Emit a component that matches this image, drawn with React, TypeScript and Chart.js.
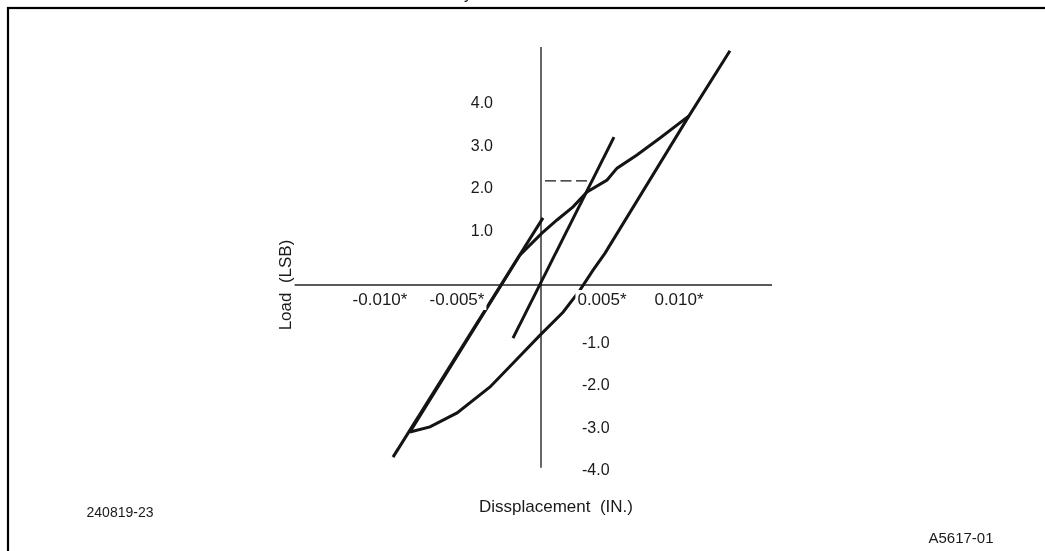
import React, { useEffect, useRef } from "react";
import { Chart, registerables } from "chart.js";

Chart.register(...registerables);

// Axis tick values (inches / LSB) and their printed labels
const xTickValues = [-0.01, -0.005, 0.005, 0.01];
const xTickLabels = ["-0.010*", "-0.005*", "0.005*", "0.010*"];
const yTickValues = [4, 3, 2, 1, -1, -2, -3, -4];
const yTickLabels = ["4.0", "3.0", "2.0", "1.0", "-1.0", "-2.0", "-3.0", "-4.0"];

// Straight line on the left side of the loop
const leftLineX = [-0.00961, 0.00013];
const leftLineY = [-4.05, 1.58];

// Loading branch of the hysteresis loop (lower-left corner to upper-right corner)
const loadingX = [-0.00851, -0.00136, 0.00006, 0.00104, 0.00208, 0.00299, 0.00429, 0.00494, 0.00623, 0.00773, 0.00961];
const loadingY = [-3.46, 0.71, 1.22, 1.53, 1.84, 2.19, 2.47, 2.75, 3.06, 3.46, 3.98];

// Unloading branch, starting at its straight upper extension
const unloadingX = [0.01227, 0.00961, 0.00416, 0.00338, 0.00253, 0.00143, -0.00006, -0.00182, -0.00331, -0.00545, -0.00721, -0.00851];
const unloadingY = [5.51, 3.98, 0.75, 0.35, -0.12, -0.64, -1.18, -1.84, -2.40, -3.01, -3.34, -3.46];

// Line through the origin
const slopeLineX = [-0.00182, 0.00474];
const slopeLineY = [-1.25, 3.48];

// Dashed level marker
const markerX = [0.00026, 0.00307];
const markerY = [2.45, 2.45];

const toPoints = (xs: number[], ys: number[]) => xs.map((x, i) => ({ x, y: ys[i] }));

const FONT = "'Liberation Sans', Arial, Helvetica, sans-serif";

const overlayPlugin = {
  id: "overlay",
  beforeDraw(chart: any) {
    const { ctx, width, height } = chart;
    ctx.save();
    ctx.fillStyle = "#ffffff";
    ctx.fillRect(0, 0, width, height);
    // frame
    ctx.strokeStyle = "#000";
    ctx.lineWidth = 2.2;
    ctx.strokeRect(8, 8, width + 20, height + 20);
    ctx.restore();
  },
  beforeDatasetsDraw(chart: any) {
    const { ctx, chartArea: a, scales } = chart;
    const x0 = scales.x.getPixelForValue(0);
    const y0 = scales.y.getPixelForValue(0);
    ctx.save();
    ctx.strokeStyle = "#5a5a5a";
    ctx.lineWidth = 2;
    ctx.beginPath();
    ctx.moveTo(a.left, y0);
    ctx.lineTo(a.right, y0);
    ctx.stroke();
    ctx.strokeStyle = "#000";
    ctx.lineWidth = 1.2;
    ctx.beginPath();
    ctx.moveTo(x0, a.top);
    ctx.lineTo(x0, a.bottom);
    ctx.stroke();
    ctx.restore();
  },
  afterDatasetsDraw(chart: any) {
    const { ctx, scales } = chart;
    const x0 = scales.x.getPixelForValue(0);
    const y0 = scales.y.getPixelForValue(0);
    ctx.save();
    ctx.fillStyle = "#1a1a1a";
    ctx.textBaseline = "middle";

    // x tick labels, sitting under the horizontal axis on a white ground
    ctx.font = `17px ${FONT}`;
    ctx.textAlign = "center";
    xTickValues.forEach((v, i) => {
      const px = scales.x.getPixelForValue(v) + (v < 0 ? -7 : -16);
      const py = y0 + 15;
      const w = ctx.measureText(xTickLabels[i]).width;
      ctx.fillStyle = "#ffffff";
      ctx.fillRect(px - w / 2 - 2, py - 10, w + 4, 20);
      ctx.fillStyle = "#1a1a1a";
      ctx.fillText(xTickLabels[i], px, py);
    });

    // y tick labels: positive ones left of the axis, negative ones right of it
    ctx.font = `16px ${FONT}`;
    yTickValues.forEach((v, i) => {
      const py = scales.y.getPixelForValue(v);
      if (v > 0) {
        ctx.textAlign = "right";
        ctx.fillText(yTickLabels[i], x0 - 48, py - 11);
      } else {
        ctx.textAlign = "left";
        ctx.fillText(yTickLabels[i], x0 + 41, py + 16);
      }
    });

    // axis titles
    ctx.textAlign = "center";
    ctx.font = `17px ${FONT}`;
    ctx.fillText("Dissplacement  (IN.)", 556, 507);
    ctx.save();
    ctx.translate(286, 285);
    ctx.rotate(-Math.PI / 2);
    ctx.fillText("Load  (LSB)", 0, 0);
    ctx.restore();

    // figure identifiers
    ctx.font = `14px ${FONT}`;
    ctx.fillText("240819-23", 120, 513);
    ctx.font = `15px ${FONT}`;
    ctx.fillText("A5617-01", 961, 539);

    // title running above the frame
    ctx.textBaseline = "alphabetic";
    ctx.font = `16px ${FONT}`;
    ctx.fillText("y", 468, -1);
    ctx.restore();
  },
};

const lineStyle = {
  borderColor: "#141414",
  borderWidth: 3,
  pointRadius: 0,
  tension: 0,
  fill: false,
  borderCapStyle: "butt" as const,
};

export default function App() {
  const canvasRef = useRef<HTMLCanvasElement | null>(null);

  useEffect(() => {
    if (!canvasRef.current) return;
    const chart = new Chart(canvasRef.current, {
      type: "line",
      data: {
        datasets: [
          { ...lineStyle, label: "left", data: toPoints(leftLineX, leftLineY) },
          { ...lineStyle, label: "loading", data: toPoints(loadingX, loadingY) },
          { ...lineStyle, label: "unloading", data: toPoints(unloadingX, unloadingY) },
          { ...lineStyle, label: "slope", data: toPoints(slopeLineX, slopeLineY) },
          {
            ...lineStyle,
            label: "marker",
            borderWidth: 1.3,
            borderDash: [11, 4.5],
            data: toPoints(markerX, markerY),
          },
        ],
      },
      options: {
        responsive: true,
        maintainAspectRatio: false,
        animation: false,
        layout: { padding: { left: 294.6, right: 273, top: 47, bottom: 83.25 } },
        plugins: { legend: { display: false }, tooltip: { enabled: false }, title: { display: false } },
        scales: {
          x: { type: "linear", min: -0.016, max: 0.015, display: false },
          y: { type: "linear", min: -4.3, max: 5.6, display: false },
        },
      },
      plugins: [overlayPlugin],
    });
    return () => chart.destroy();
  }, []);

  return (
    <div style={{ position: "absolute", left: 0, top: 0, width: 1045, height: 551, background: "#fff" }}>
      <canvas ref={canvasRef} />
    </div>
  );
}
